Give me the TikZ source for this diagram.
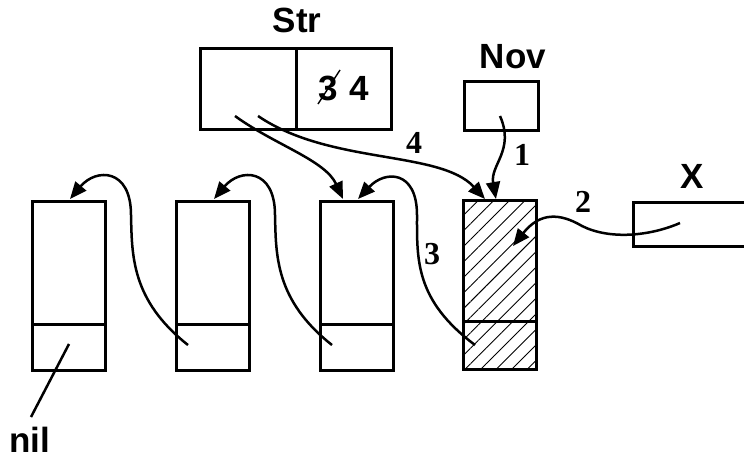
\documentclass[tikz,border=0pt]{standalone}
\usepackage{fontspec}
\setmainfont{Liberation Sans}
\newfontfamily\serifnum{Liberation Serif}
\usetikzlibrary{patterns.meta,arrows.meta,calc}
\begin{document}
\begin{tikzpicture}[x=1pt,y=-1pt,
  box/.style={draw, line width=3pt, inner sep=0pt},
  cell/.style={box, minimum width=73pt, minimum height=169pt, anchor=north west},
  divline/.style={line width=3pt},
  conn/.style={line width=2.5pt, -{Triangle[length=17pt,width=14pt]}},
  plain/.style={line width=2.5pt},
  lab/.style={font=\fontsize{35}{40}\selectfont\bfseries, inner sep=0pt},
  num/.style={font=\serifnum\fontsize{32}{36}\selectfont\bfseries, inner sep=0pt}]
\useasboundingbox (0,0) rectangle (744,461);

% list cells
\node[cell] (b1) at (31,200) {};
\node[cell] (b2) at (175,200) {};
\node[cell] (b3) at (319,200) {};
\node[cell, pattern={Lines[angle=45,distance=11pt,line width=0.9pt]}] (b4) at (463,200) {};
\foreach \b in {b1,b2,b3,b4}{
  \draw[divline] ($(\b.south west)+(0,-48)$) -- ($(\b.south east)+(0,-48)$);
}

% Str record
\node[box, minimum width=191pt, minimum height=81pt, anchor=north west] (str) at (199,47) {};
\draw[divline] (296,47) -- (296,128);
\node[lab] (strlab) at (297,20) {Str};
\node[lab] (three) at (328,88) {3};
\node[lab] (four) at (359,88) {4};
\draw[line width=1.4pt] (318,104) -- (340,70);

% Nov
\node[box, minimum width=74pt, minimum height=49pt, anchor=north west] (nov) at (463,80) {};
\node[lab] (novlab) at (513,57) {Nov};

% X
\node[box, minimum width=130pt, minimum height=44pt, anchor=north west] (x) at (632,201) {};
\node[lab] (xlab) at (692,176) {X};

% nil
\node[lab] (nil) at (30,440) {nil};
\coordinate (nilend) at (31,417);
\draw[plain] (69,344) -- (nilend);

% interior start points
\coordinate (s1) at (235,116);
\coordinate (s4) at (258,116);
\coordinate (n1) at (500,116);
\coordinate (x2) at (680,223);
\coordinate (p4) at (475,345);
\coordinate (p3) at (332,345);
\coordinate (p2) at (188,345);

% arrows
\draw[conn] (s1) .. controls (275,145) and (325,160) .. ($(b3.north)+(-14,-1)$);
\draw[conn] (s4) .. controls (330,165) and (440,150) .. ($(b4.north)+(-15,-1)$);
\draw[conn] (n1) .. controls (515,150) and (490,165) .. ($(b4.north)+(-4,-1)$);
\draw[conn] (x2) .. controls (650,236) and (610,240) .. (582,226)
               .. controls (560,213) and (540,212) .. (513,246);
\draw[conn] (p4) .. controls (415,300) and (417,260) .. (417,215)
               .. controls (417,170) and (385,170) .. ($(b3.north)+(1,-1)$);
\draw[conn] (p3) .. controls (275,300) and (276,255) .. (275,215)
               .. controls (275,168) and (240,168) .. ($(b2.north)+(1,-1)$);
\draw[conn] (p2) .. controls (131,300) and (132,255) .. (131,215)
               .. controls (131,168) and (96,168) .. ($(b1.north)+(1,-1)$);

% numbers
\node[num] (l1) at (522,155) {1};
\node[num] (l2) at (583,202) {2};
\node[num] (l3) at (432,254) {3};
\node[num] (l4) at (414,143) {4};
\end{tikzpicture}
\end{document}
